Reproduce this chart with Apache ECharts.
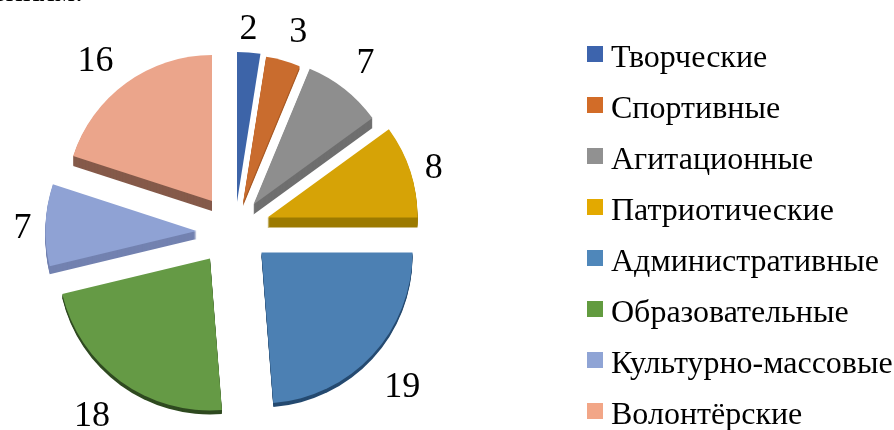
<!DOCTYPE html>
<html>
<head>
<meta charset="utf-8">
<style>html,body{margin:0;padding:0;background:#fff}#chart{width:894px;height:430px}</style>
<script src="https://cdn.jsdelivr.net/npm/echarts@6/dist/echarts.min.js"></script>
</head>
<body>
<div id="chart"></div>
<script>
const categories = ['Творческие', 'Спортивные', 'Агитационные', 'Патриотические', 'Административные', 'Образовательные', 'Культурно-массовые', 'Волонтёрские']
const values = [2, 3, 7, 8, 19, 18, 7, 16]

const faceColors = ['#3d64a8', '#c96c2e', '#8e8e8e', '#d6a306', '#4c80b3', '#659a45', '#8fa2d4', '#eba58b']
const sideColors = ['#2c4a80', '#a85a25', '#6f6f6f', '#9c7a00', '#254a70', '#2f4a20', '#7382b0', '#855a4a']
const legendColors = ['#3d64ad', '#d26c28', '#919191', '#e3a900', '#4f87ba', '#629b3f', '#8fa4d5', '#f2a687']

// how far each slice is pulled out, its radius, its side depth, label nudge
const pullOut = [[2, -26], [8, -25], [18.5, -23.5], [32.5, -10.5], [26.5, 24.5], [-25, 30.5], [-38.5, 3], [-23, -27]]
const radii = [150, 148, 147, 150, 151, 152, 151, 146]
const depth = [0, 3, 10, 10, 4, 4, 8, 10]
const labelNudge = [[-15, -15], [-1, -20], [2, -19], [2, 0], [1, 27], [-1, 29], [-1, 4], [-3, -15]]

const cx = 235
const cy = 228
const total = values.reduce((a, b) => a + b, 0)
const fontName = '"Liberation Serif", "Times New Roman", serif'

function slice(i, startAngle, shift, isFace) {
  return {
    type: 'pie',
    silent: true,
    animation: false,
    avoidLabelOverlap: false,
    radius: [0, radii[i]],
    center: [cx + pullOut[i][0], cy + pullOut[i][1] + shift],
    startAngle: startAngle,
    z: isFace ? 3 : 2,
    labelLine: { show: false, length: 8, length2: 0 },
    labelLayout: { dx: labelNudge[i][0], dy: labelNudge[i][1], hideOverlap: false },
    emphasis: { disabled: true },
    data: [
      {
        name: isFace ? categories[i] : '',
        value: values[i],
        itemStyle: { color: isFace ? faceColors[i] : sideColors[i] },
        label: { show: isFace, position: 'outside', formatter: '{c}', fontFamily: fontName, fontSize: 36, color: '#000' }
      },
      {
        name: ' ',
        value: total - values[i],
        itemStyle: { color: 'transparent' },
        label: { show: false }
      }
    ]
  }
}

const series = []
let used = 0
values.forEach((v, i) => {
  const startAngle = 90 - used / total * 360
  for (let k = depth[i]; k > 0; k--) {
    series.push(slice(i, startAngle, k, false))
  }
  series.push(slice(i, startAngle, 0, true))
  used += v
})

const chart = echarts.init(document.getElementById('chart'), null, { renderer: 'canvas' })
chart.setOption({
  backgroundColor: '#fff',
  graphic: [{
    type: 'text',
    x: 83,
    y: 9,
    style: { text: 'ениям.', align: 'right', verticalAlign: 'bottom', font: '32px ' + fontName, fill: '#000' }
  }],
  legend: {
    orient: 'vertical',
    left: 587,
    top: 43,
    height: 480, // rows run slightly past the bottom edge, stop the legend wrapping
    padding: 0,
    icon: 'rect',
    itemWidth: 16,
    itemHeight: 16,
    itemGap: 19,
    selectedMode: false,
    formatter: '{t|{name}}',
    textStyle: {
      padding: [10, 0, 0, 3], // only rich text moves down with a top padding
      rich: { t: { fontFamily: fontName, fontSize: 32, color: '#000', lineHeight: 32 } }
    },
    data: categories.map((c, i) => ({ name: c, itemStyle: { color: legendColors[i] } }))
  },
  series: series
})
</script>
</body>
</html>
